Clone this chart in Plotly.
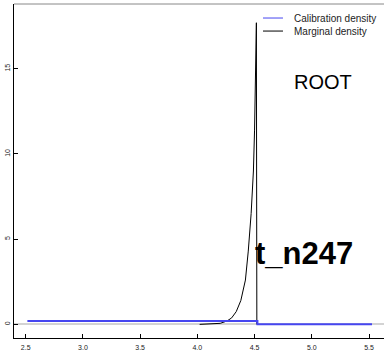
import plotly.graph_objects as go

# Calibration density (blue)
calib_x = [2.515, 4.525, 4.525, 5.526]
calib_y = [0.2, 0.2, 0.0, 0.0]

# Marginal density (black)
marg_x = [4.02, 4.10, 4.20, 4.26, 4.30, 4.34, 4.38, 4.42, 4.445, 4.47, 4.49, 4.50, 4.51, 4.516, 4.52]
marg_y = [0.0, 0.01, 0.06, 0.2, 0.38, 0.75, 1.4, 2.6, 4.3, 6.5, 9.0, 11.4, 14.5, 17.7, 0.0]

series_names = ["Calibration density", "Marginal density"]
series_colors = ["#4646f0", "#000000"]

x_ticks = [2.5, 3.0, 3.5, 4.0, 4.5, 5.0, 5.5]
x_ticklabels = ["2.5", "3.0", "3.5", "4.0", "4.5", "5.0", "5.5"]
y_ticks = [0, 5, 10, 15]
y_ticklabels = ["0", "5", "10", "15"]

title_text = "ROOT"
node_text = "t_n247"

fig = go.Figure()
fig.add_trace(go.Scatter(x=marg_x, y=marg_y, mode="lines", name=series_names[1],
                         line=dict(color=series_colors[1], width=1), showlegend=False))
fig.add_trace(go.Scatter(x=calib_x, y=calib_y, mode="lines", name=series_names[0],
                         line=dict(color=series_colors[0], width=2), showlegend=False))

font_family = "Liberation Sans, Arial, Helvetica, sans-serif"

fig.update_layout(
    width=384, height=356,
    margin=dict(l=14, r=0, t=4, b=18, pad=0),
    paper_bgcolor="white", plot_bgcolor="white",
    showlegend=False,
    font=dict(family=font_family),
    xaxis=dict(range=[2.398, 5.631], tickvals=x_ticks, ticktext=x_ticklabels,
               ticks="inside", ticklen=4, tickcolor="black", tickwidth=1,
               showline=True, linecolor="black", linewidth=1,
               showgrid=False, zeroline=False, automargin=False,
               ticklabelstandoff=3,
               tickfont=dict(size=7, color="#222")),
    yaxis=dict(range=[-0.80, 18.8], tickvals=y_ticks, ticktext=y_ticklabels,
               ticks="inside", ticklen=4, tickcolor="black", tickwidth=1,
               showline=True, linecolor="black", linewidth=1,
               showgrid=False, zeroline=True, zerolinecolor="#d3d3d3", zerolinewidth=2,
               tickangle=-90, automargin=False,
               tickfont=dict(size=7, color="#222")),
)

# top border
fig.add_shape(type="line", xref="paper", yref="paper", x0=0, x1=1, y0=1, y1=1,
              line=dict(color="#888888", width=1))

# manual legend
legend_y = [0.958, 0.919]
for name, color, ly in zip(series_names, series_colors, legend_y):
    fig.add_shape(type="line", xref="paper", yref="paper", x0=0.673, x1=0.727, y0=ly, y1=ly,
                  line=dict(color=color, width=1))
    fig.add_annotation(xref="paper", yref="paper", x=0.7514, y=ly, text=name, showarrow=False,
                       xanchor="left", yanchor="middle", font=dict(size=10, color="#222"))

fig.add_annotation(x=5.099, y=14.2, text=title_text, showarrow=False,
                   xanchor="center", yanchor="middle", font=dict(size=20, color="black"))
fig.add_annotation(x=4.933, y=4.17, text="<b>" + node_text + "</b>", showarrow=False,
                   xanchor="center", yanchor="middle", font=dict(size=31, color="black"))

fig.write_html("out.html")
